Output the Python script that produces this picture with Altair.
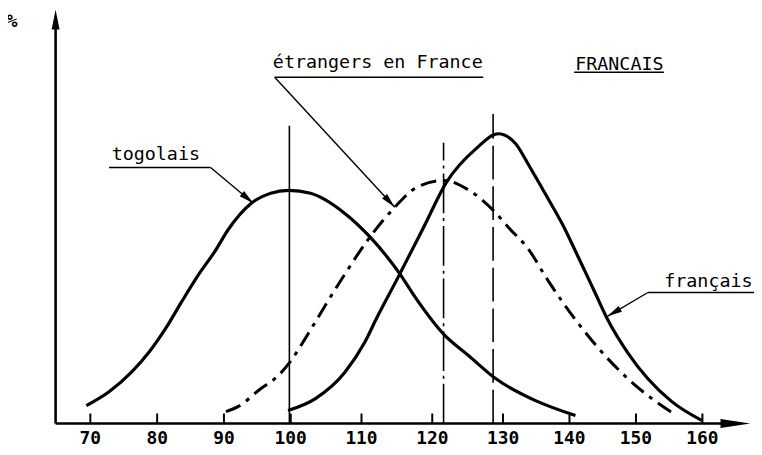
import altair as alt
import pandas as pd

# ---------------- data ----------------
# x: taille (unités de l'axe), y: % (hauteur relative, sans graduation)
tog_x = [69.4, 72.8, 76.2, 78.8, 81.3, 83.7, 86.2, 88.7, 90.6, 94.1, 97.0, 99.7,
         102.8, 107.6, 111.2, 115.3, 117.8, 121.6, 125.2, 129.0, 134.9, 140.9]
tog_y = [1.8, 3.2, 5.2, 7.2, 9.6, 12.3, 15.0, 17.4, 19.5, 22.2, 23.2, 23.5,
         23.2, 21.2, 18.8, 15.2, 12.5, 9.0, 6.8, 4.5, 2.3, 0.8]

fr_x = [99.6, 103.5, 107.6, 110.4, 112.2, 115.0, 118.8, 122.0, 126.2, 129.3, 131.9,
        133.9, 136.4, 139.0, 141.3, 143.9, 145.8, 148.8, 151.8, 155.4, 159.9]
fr_y = [1.3, 2.5, 5.1, 8.1, 10.7, 14.5, 19.8, 24.3, 27.7, 29.2, 28.2,
        26.0, 23.1, 20.0, 16.8, 13.1, 10.4, 7.1, 4.5, 2.2, 0.3]

et_x = [90.3, 92.1, 95.5, 98.1, 99.9, 102.0, 104.8, 107.6, 111.2, 114.7, 117.8, 121.6,
        125.2, 128.6, 130.9, 133.9, 136.4, 139.0, 142.0, 145.4, 148.8, 152.4, 156.1]
et_y = [1.2, 1.7, 3.5, 4.8, 6.2, 8.5, 11.8, 15.0, 18.8, 21.8, 23.8, 24.5,
        23.5, 21.5, 19.7, 17.5, 14.8, 12.2, 9.5, 6.8, 4.5, 2.5, 0.8]

# vertical reference lines (means)
vl_x = [99.8, 121.6, 128.6]
vl_top = [30.0, 28.3, 31.2]
vl_style = ["solid", "dashdot", "dashed"]

# x tick values / labels
ticks = [70, 80, 90, 100, 110, 120, 130, 140, 150, 160]
tick_labels = ["70", "80", "90", "100", "110", "120", "130", "140", "150", "160"]

# annotation texts
lab_text = ["étrangers en France", "togolais", "FRANCAIS", "français"]
lab_x = [112.3, 79.8, 147.5, 160.9]
lab_y = [35.8, 26.6, 35.6, 13.8]

# underlines and leader lines of the annotations
seg_x = [97.6, 97.6, 72.8, 88.0, 140.7, 151.8, 151.8]
seg_y = [34.9, 34.9, 25.8, 25.8, 35.4, 13.2, 13.2]
seg_x2 = [127.2, 114.7, 88.0, 94.4, 154.2, 167.8, 145.7]
seg_y2 = [34.9, 21.8, 25.8, 22.2, 35.4, 13.2, 10.8]

# arrow heads of leader lines
arr_x = [114.7, 94.4, 145.7]
arr_y = [21.8, 22.2, 10.8]
arr_angle = [137, 130, 240]

# axes extents
axis_x0, axis_x1 = 64.8, 167.2
axis_ytop = 41.7

# ---------------- scales ----------------
XS = alt.Scale(domain=[70, 100, 130, 160], range=[35, 237, 451, 652], nice=False, zero=False)
YS = alt.Scale(domain=[0, 41.5], nice=False, zero=False)
MONO = "DejaVu Sans Mono"


def X(field="x", **kw):
    return alt.X(f"{field}:Q", scale=XS, axis=None, **kw)


def Y(field="y", **kw):
    return alt.Y(f"{field}:Q", scale=YS, axis=None, **kw)


tog = pd.DataFrame({"x": tog_x, "y": tog_y})
fr = pd.DataFrame({"x": fr_x, "y": fr_y})
et = pd.DataFrame({"x": et_x, "y": et_y})

# tick labels below the axis
tick_text = alt.Chart(pd.DataFrame({"x": ticks, "y": [-1.6] * len(ticks), "t": tick_labels})).mark_text(
    font=MONO, fontSize=18, fontWeight="bold", color="black", align="center", baseline="middle"
).encode(x=X(), y=Y(), text="t:N")

tick_rules = alt.Chart(pd.DataFrame({"x": ticks, "y": [0] * len(ticks), "y2": [1.0] * len(ticks)})).mark_rule(
    color="black", strokeWidth=2).encode(x=X(), y=Y(), y2="y2:Q")

axes_df = pd.DataFrame({"x": [axis_x0, axis_x0], "y": [0, 0], "x2": [axis_x1 - 2.5, axis_x0],
                        "y2": [0, axis_ytop - 1.2]})
axes_rules = alt.Chart(axes_df).mark_rule(color="black", strokeWidth=2.6).encode(
    x=X(), y=Y(), x2="x2:Q", y2="y2:Q")

xarrow = alt.Chart(pd.DataFrame({"x": [axis_x1], "y": [0]})).mark_point(
    shape="M0,0 L0.3,2 L-0.3,2 Z", size=900, angle=90, filled=True, color="black", opacity=1,
    strokeWidth=0).encode(x=X(), y=Y())
yarrow = alt.Chart(pd.DataFrame({"x": [axis_x0], "y": [axis_ytop]})).mark_point(
    shape="M0,0 L0.4,2 L-0.4,2 Z", size=400, filled=True, color="black", opacity=1,
    strokeWidth=0).encode(x=X(), y=Y())

vlines = alt.Chart(pd.DataFrame({"x": vl_x, "y": [0] * 3, "y2": vl_top, "s": vl_style})).mark_rule(
    color="black", strokeWidth=1.6).encode(
    x=X(), y=Y(), y2="y2:Q",
    strokeDash=alt.StrokeDash("s:N", legend=None,
                              scale=alt.Scale(domain=vl_style, range=[[1, 0], [40, 5, 3, 5], [34, 7]])))

line_tog = alt.Chart(tog).mark_line(color="black", strokeWidth=3.2, interpolate="monotone").encode(
    x=X(), y=Y())
line_fr = alt.Chart(fr).mark_line(color="black", strokeWidth=3.2, interpolate="monotone").encode(
    x=X(), y=Y())
line_et = alt.Chart(et).mark_line(color="black", strokeWidth=3.0, interpolate="monotone",
                                  strokeDash=[16, 7, 4, 7]).encode(x=X(), y=Y())

segs = alt.Chart(pd.DataFrame({"x": seg_x, "y": seg_y, "x2": seg_x2, "y2": seg_y2})).mark_rule(
    color="black", strokeWidth=1.4).encode(x=X(), y=Y(), x2="x2:Q", y2="y2:Q")

arrows = alt.Chart(pd.DataFrame({"x": arr_x, "y": arr_y, "a": arr_angle})).mark_point(
    shape="M0,0 L0.45,2 L-0.45,2 Z", size=225, filled=True, color="black", opacity=1,
    strokeWidth=0).encode(x=X(), y=Y(), angle=alt.Angle("a:Q", scale=None))

labels = alt.Chart(pd.DataFrame({"x": lab_x, "y": lab_y, "t": lab_text})).mark_text(
    font=MONO, fontSize=18.5, color="black", align="center", baseline="alphabetic").encode(
    x=X(), y=Y(), text="t:N")

pct = alt.Chart(pd.DataFrame({"x": [58.3], "y": [40.0], "t": ["%"]})).mark_text(
    font=MONO, fontSize=18, fontWeight="bold", color="black", align="center",
    baseline="alphabetic").encode(x=X(), y=Y(), text="t:N")

chart = alt.layer(
    vlines, line_tog, line_et, line_fr, tick_rules, axes_rules, xarrow, yarrow,
    segs, arrows, labels, pct, tick_text
).properties(
    width=697, height=415,
    autosize=alt.AutoSizeParams(type="none"),
    padding={"left": 48, "top": 2, "right": 7, "bottom": 30},
    background="white",
).configure_view(strokeWidth=0)

chart.save("out.html", embed_options={"renderer": "svg", "actions": False})
